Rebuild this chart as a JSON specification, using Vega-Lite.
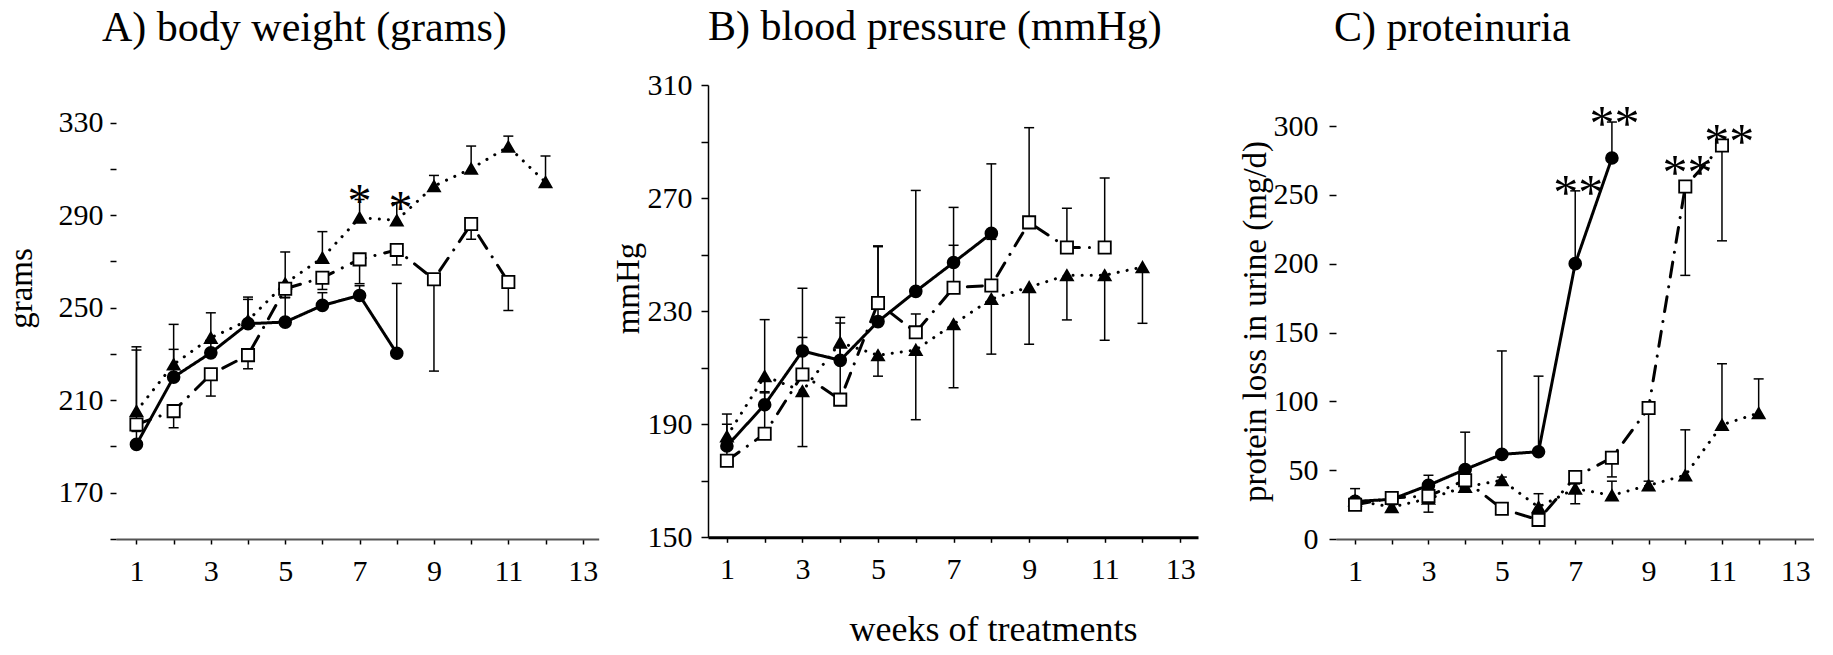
{
  "$schema": "https://vega.github.io/schema/vega-lite/v6.json",
  "background": "white",
  "padding": {"left": 5, "top": 6, "right": 0, "bottom": 0},
  "autosize": {"type": "pad"},
  "config": {
    "font": "Liberation Serif",
    "view": {"stroke": null},
    "axis": {"grid": false, "labelFont": "Liberation Serif", "titleFont": "Liberation Serif", "labelFontSize": 30, "titleFontSize": 33, "titleFontWeight": "normal", "labelColor": "black", "titleColor": "black", "domainColor": "black", "tickColor": "black", "tickWidth": 1.5, "domainWidth": 1.5, "labelFlush": false, "labelOverlap": false},
    "title": {"font": "Liberation Serif", "fontSize": 42, "fontWeight": "normal", "anchor": "start", "frame": "group", "color": "black", "baseline": "alphabetic"}
  },
  "datasets": {
    "bw": [
      {"g": "circle", "w": 1, "v": 190.9, "e": 231.7},
      {"g": "circle", "w": 2, "v": 220.0, "e": 232.0},
      {"g": "circle", "w": 3, "v": 230.5, "e": 235.6},
      {"g": "circle", "w": 4, "v": 243.1, "e": 253.6},
      {"g": "circle", "w": 5, "v": 243.8, "e": 254.3},
      {"g": "circle", "w": 6, "v": 251.0, "e": 256.5},
      {"g": "circle", "w": 7, "v": 255.3, "e": 259.5},
      {"g": "circle", "w": 8, "v": 230.3, "e": 260.5},
      {"g": "triangle", "w": 1, "v": 205.3, "e": 233.1},
      {"g": "triangle", "w": 2, "v": 225.5, "e": 242.8},
      {"g": "triangle", "w": 3, "v": 237.0, "e": 247.8},
      {"g": "triangle", "w": 4, "v": 244.5, "e": 254.6},
      {"g": "triangle", "w": 5, "v": 260.5, "e": 274.1},
      {"g": "triangle", "w": 6, "v": 271.6, "e": 282.9},
      {"g": "triangle", "w": 7, "v": 288.9, "e": 296.8},
      {"g": "triangle", "w": 8, "v": 287.8, "e": 295.4},
      {"g": "triangle", "w": 9, "v": 302.6, "e": 307.2},
      {"g": "triangle", "w": 10, "v": 310.1, "e": 319.9},
      {"g": "triangle", "w": 11, "v": 319.6, "e": 324.2},
      {"g": "triangle", "w": 12, "v": 304.3, "e": 315.6},
      {"g": "square", "w": 1, "v": 199.5, "e": 196.5},
      {"g": "square", "w": 2, "v": 205.3, "e": 198.1},
      {"g": "square", "w": 3, "v": 221.2, "e": 211.8},
      {"g": "square", "w": 4, "v": 229.5, "e": 223.6},
      {"g": "square", "w": 5, "v": 258.2, "e": 254.5},
      {"g": "square", "w": 6, "v": 263.0, "e": 257.9},
      {"g": "square", "w": 7, "v": 270.9, "e": 260.4},
      {"g": "square", "w": 8, "v": 275.0, "e": 268.5},
      {"g": "square", "w": 9, "v": 262.3, "e": 222.6},
      {"g": "square", "w": 10, "v": 286.2, "e": 279.6},
      {"g": "square", "w": 11, "v": 261.1, "e": 248.8}
    ],
    "bwStar": [
      {"w": 7, "v": 299.9, "t": "*"},
      {"w": 8.1, "v": 297.0, "t": "*"}
    ],
    "bp": [
      {"g": "circle", "w": 1, "v": 182.3, "e": 193.6},
      {"g": "circle", "w": 2, "v": 196.9, "e": 227.0},
      {"g": "circle", "w": 3, "v": 215.9, "e": 238.1},
      {"g": "circle", "w": 4, "v": 212.6, "e": 227.8},
      {"g": "circle", "w": 5, "v": 226.3, "e": 252.8},
      {"g": "circle", "w": 6, "v": 237.0, "e": 272.7},
      {"g": "circle", "w": 7, "v": 247.2, "e": 266.7},
      {"g": "circle", "w": 8, "v": 257.5, "e": 282.1},
      {"g": "triangle", "w": 1, "v": 185.7, "e": 181.5},
      {"g": "triangle", "w": 2, "v": 207.0, "e": 201.5},
      {"g": "triangle", "w": 3, "v": 201.7, "e": 182.1},
      {"g": "triangle", "w": 4, "v": 218.9, "e": 212.0},
      {"g": "triangle", "w": 5, "v": 214.4, "e": 207.0},
      {"g": "triangle", "w": 6, "v": 216.3, "e": 191.6},
      {"g": "triangle", "w": 7, "v": 225.4, "e": 202.9},
      {"g": "triangle", "w": 8, "v": 234.3, "e": 214.8},
      {"g": "triangle", "w": 9, "v": 238.5, "e": 218.3},
      {"g": "triangle", "w": 10, "v": 242.7, "e": 226.9},
      {"g": "triangle", "w": 11, "v": 242.7, "e": 219.7},
      {"g": "triangle", "w": 12, "v": 245.6, "e": 225.7},
      {"g": "square", "w": 1, "v": 177.1, "e": 190.0},
      {"g": "square", "w": 2, "v": 186.6, "e": 201.1},
      {"g": "square", "w": 3, "v": 207.6, "e": 220.7},
      {"g": "square", "w": 4, "v": 198.7, "e": 225.8},
      {"g": "square", "w": 5, "v": 232.9, "e": 253.1},
      {"g": "square", "w": 6, "v": 222.5, "e": 229.0},
      {"g": "square", "w": 7, "v": 238.3, "e": 253.3},
      {"g": "square", "w": 8, "v": 239.1, "e": 255.4},
      {"g": "square", "w": 9, "v": 261.4, "e": 294.9},
      {"g": "square", "w": 10, "v": 252.5, "e": 266.4},
      {"g": "square", "w": 11, "v": 252.5, "e": 277.1}
    ],
    "pu": [
      {"g": "circle", "w": 1, "v": 27.3, "e": 36.6},
      {"g": "circle", "w": 2, "v": 28.8, "e": 30.0},
      {"g": "circle", "w": 3, "v": 39.0, "e": 46.3},
      {"g": "circle", "w": 4, "v": 50.5, "e": 77.6},
      {"g": "circle", "w": 5, "v": 61.5, "e": 136.6},
      {"g": "circle", "w": 6, "v": 63.4, "e": 118.3},
      {"g": "circle", "w": 7, "v": 200.0, "e": 252.9},
      {"g": "circle", "w": 8, "v": 276.8, "e": 302.9},
      {"g": "triangle", "w": 1, "v": 28.0, "e": 30.0},
      {"g": "triangle", "w": 2, "v": 23.2, "e": 25.0},
      {"g": "triangle", "w": 3, "v": 29.3, "e": 33.0},
      {"g": "triangle", "w": 4, "v": 37.8, "e": 40.0},
      {"g": "triangle", "w": 5, "v": 42.7, "e": 45.0},
      {"g": "triangle", "w": 6, "v": 23.2, "e": 32.9},
      {"g": "triangle", "w": 7, "v": 36.6, "e": 40.0},
      {"g": "triangle", "w": 8, "v": 31.7, "e": 42.0},
      {"g": "triangle", "w": 9, "v": 39.0, "e": 42.0},
      {"g": "triangle", "w": 10, "v": 46.3, "e": 79.3},
      {"g": "triangle", "w": 11, "v": 82.9, "e": 127.3},
      {"g": "triangle", "w": 12, "v": 91.5, "e": 116.3},
      {"g": "square", "w": 1, "v": 24.9, "e": 22.0},
      {"g": "square", "w": 2, "v": 29.8, "e": 27.0},
      {"g": "square", "w": 3, "v": 31.2, "e": 19.5},
      {"g": "square", "w": 4, "v": 42.7, "e": 38.0},
      {"g": "square", "w": 5, "v": 22.0, "e": 20.0},
      {"g": "square", "w": 6, "v": 13.9, "e": 12.0},
      {"g": "square", "w": 7, "v": 45.1, "e": 25.6},
      {"g": "square", "w": 8, "v": 59.0, "e": 45.1},
      {"g": "square", "w": 9, "v": 95.1, "e": 36.6},
      {"g": "square", "w": 10, "v": 256.1, "e": 191.5},
      {"g": "square", "w": 11, "v": 285.9, "e": 216.6}
    ],
    "puStar": [
      {"w": 7.08, "v": 259, "t": "**"},
      {"w": 8.07, "v": 309.3, "t": "**"},
      {"w": 10.06, "v": 273.7, "t": "**"},
      {"w": 11.2, "v": 296.3, "t": "**"}
    ]
  },
  "spacing": 13,
  "hconcat": [
    {
      "width": 482.7,
      "height": 454,
      "title": {"text": "A) body weight (grams)", "dx": -14, "offset": 35},
      "data": {"name": "bw"},
      "encoding": {
        "x": {"field": "w", "type": "quantitative", "scale": {"domain": [0.45, 13.43], "nice": false, "zero": false},
          "axis": {"values": [1,2,3,4,5,6,7,8,9,10,11,12,13], "labelExpr": "datum.value % 2 == 1 ? datum.label : ''", "title": null, "tickSize": 5, "labelPadding": 12, "domainColor": "#555", "domainWidth": 2}},
        "y": {"field": "v", "type": "quantitative", "scale": {"domain": [150, 346.3], "nice": false, "zero": false},
          "axis": {"values": [150,170,190,210,230,250,270,290,310,330], "labelExpr": "datum.value % 40 == 10 ? datum.label : ''", "title": "grams", "domain": false, "tickSize": 6, "labelPadding": 7, "titlePadding": 20, "titleY": 203}}
      },
      "layer": [
        {"data": {"values": [{}]}, "mark": {"type": "rule", "strokeWidth": 1.5, "color": "black"},
          "encoding": {"x": {"datum": 0.45}, "y": {"datum": 150}, "y2": {"datum": 330}}},
        {"mark": {"type": "rule", "strokeWidth": 1.5, "color": "black"}, "encoding": {"y2": {"field": "e"}}},
        {"mark": {"type": "point", "shape": "M-1,0L1,0", "size": 100, "filled": false, "stroke": "black", "strokeWidth": 1.5, "opacity": 1},
          "encoding": {"y": {"field": "e", "type": "quantitative"}}},
        {"mark": {"type": "line", "strokeCap": "round", "strokeJoin": "round", "color": "black", "strokeWidth": 3},
          "encoding": {"detail": {"field": "g"}, "strokeDash": {"field": "g", "type": "nominal", "legend": null, "scale": {"domain": ["circle", "triangle", "square"], "range": [[1, 0], [0.1, 9], [15, 10, 0.1, 10]]}}}},
        {"mark": {"type": "point", "filled": true, "opacity": 1, "stroke": "black", "strokeWidth": 1.8},
          "encoding": {
            "shape": {"field": "g", "type": "nominal", "legend": null, "scale": {"domain": ["circle", "triangle", "square"], "range": ["circle", "triangle-up", "square"]}},
            "fill": {"field": "g", "type": "nominal", "legend": null, "scale": {"domain": ["circle", "triangle", "square"], "range": ["black", "black", "white"]}},
            "size": {"field": "g", "type": "nominal", "legend": null, "scale": {"domain": ["circle", "triangle", "square"], "range": [140, 150, 190]}}
          }},
        {"data": {"name": "bwStar"}, "mark": {"type": "text", "fontSize": 48, "fontWeight": 300, "baseline": "middle", "dy": 11, "color": "black"},
          "encoding": {"text": {"field": "t"}}}
      ]
    },
    {
      "spacing": 41,
      "hconcat": [
        {
          "width": 490,
          "height": 452.3,
          "title": {"text": "B) blood pressure (mmHg)", "dx": 0, "offset": 21},
          "data": {"name": "bp"},
          "encoding": {
            "x": {"field": "w", "type": "quantitative", "scale": {"domain": [0.5, 13.47], "nice": false, "zero": false},
              "axis": {"values": [1,2,3,4,5,6,7,8,9,10,11,12,13], "labelExpr": "datum.value % 2 == 1 ? datum.label : ''", "title": "weeks of treatments", "titleFontSize": 36, "titleX": 285, "titleY": 103, "titleBaseline": "alphabetic", "titleAlign": "center", "tickSize": 5, "labelPadding": 12, "domainColor": "black", "domainWidth": 3}},
            "y": {"field": "v", "type": "quantitative", "scale": {"domain": [150, 310], "nice": false, "zero": false},
              "axis": {"values": [150,170,190,210,230,250,270,290,310], "labelExpr": "datum.value % 40 == 30 ? datum.label : ''", "title": "mmHg", "tickSize": 7, "labelPadding": 9, "titlePadding": 2, "titleY": 203}}
          },
          "layer": [
            {"mark": {"type": "rule", "strokeWidth": 1.5, "color": "black"}, "encoding": {"y2": {"field": "e"}}},
            {"mark": {"type": "point", "shape": "M-1,0L1,0", "size": 100, "filled": false, "stroke": "black", "strokeWidth": 1.5, "opacity": 1},
              "encoding": {"y": {"field": "e", "type": "quantitative"}}},
            {"mark": {"type": "line", "strokeCap": "round", "strokeJoin": "round", "color": "black", "strokeWidth": 3},
              "encoding": {"detail": {"field": "g"}, "strokeDash": {"field": "g", "type": "nominal", "legend": null, "scale": {"domain": ["circle", "triangle", "square"], "range": [[1, 0], [0.1, 9], [15, 10, 0.1, 10]]}}}},
            {"mark": {"type": "point", "filled": true, "opacity": 1, "stroke": "black", "strokeWidth": 1.8},
              "encoding": {
                "shape": {"field": "g", "type": "nominal", "legend": null, "scale": {"domain": ["circle", "triangle", "square"], "range": ["circle", "triangle-up", "square"]}},
                "fill": {"field": "g", "type": "nominal", "legend": null, "scale": {"domain": ["circle", "triangle", "square"], "range": ["black", "black", "white"]}},
                "size": {"field": "g", "type": "nominal", "legend": null, "scale": {"domain": ["circle", "triangle", "square"], "range": [140, 150, 190]}}
              }}
          ]
        },
        {
          "width": 477.7,
          "height": 454,
          "title": {"text": "C) proteinuria", "dx": -2, "offset": 35},
          "data": {"name": "pu"},
          "encoding": {
            "x": {"field": "w", "type": "quantitative", "scale": {"domain": [0.48, 13.5], "nice": false, "zero": false},
              "axis": {"values": [1,2,3,4,5,6,7,8,9,10,11,12,13], "labelExpr": "datum.value % 2 == 1 ? datum.label : ''", "title": null, "tickSize": 5, "labelPadding": 12, "domainColor": "#555", "domainWidth": 2}},
            "y": {"field": "v", "type": "quantitative", "scale": {"domain": [0, 329.8], "nice": false, "zero": false},
              "axis": {"values": [0,50,100,150,200,250,300], "title": "protein loss in urine (mg/d)", "domain": false, "tickSize": 7, "labelPadding": 11, "titlePadding": 1, "titleY": 236}}
          },
          "layer": [
            {"data": {"values": [{}]}, "mark": {"type": "rule", "strokeWidth": 1.5, "color": "black"},
              "encoding": {"x": {"datum": 0.48}, "y": {"datum": 0}, "y2": {"datum": 300}}},
            {"mark": {"type": "rule", "strokeWidth": 1.5, "color": "black"}, "encoding": {"y2": {"field": "e"}}},
            {"mark": {"type": "point", "shape": "M-1,0L1,0", "size": 100, "filled": false, "stroke": "black", "strokeWidth": 1.5, "opacity": 1},
              "encoding": {"y": {"field": "e", "type": "quantitative"}}},
            {"mark": {"type": "line", "strokeCap": "round", "strokeJoin": "round", "color": "black", "strokeWidth": 3},
              "encoding": {"detail": {"field": "g"}, "strokeDash": {"field": "g", "type": "nominal", "legend": null, "scale": {"domain": ["circle", "triangle", "square"], "range": [[1, 0], [0.1, 9], [15, 10, 0.1, 10]]}}}},
            {"mark": {"type": "point", "filled": true, "opacity": 1, "stroke": "black", "strokeWidth": 1.8},
              "encoding": {
                "shape": {"field": "g", "type": "nominal", "legend": null, "scale": {"domain": ["circle", "triangle", "square"], "range": ["circle", "triangle-up", "square"]}},
                "fill": {"field": "g", "type": "nominal", "legend": null, "scale": {"domain": ["circle", "triangle", "square"], "range": ["black", "black", "white"]}},
                "size": {"field": "g", "type": "nominal", "legend": null, "scale": {"domain": ["circle", "triangle", "square"], "range": [140, 150, 190]}}
              }},
            {"data": {"name": "puStar"}, "mark": {"type": "text", "fontSize": 50, "baseline": "middle", "dy": 12, "color": "black"},
              "encoding": {"text": {"field": "t"}}}
          ]
        }
      ]
    }
  ]
}
